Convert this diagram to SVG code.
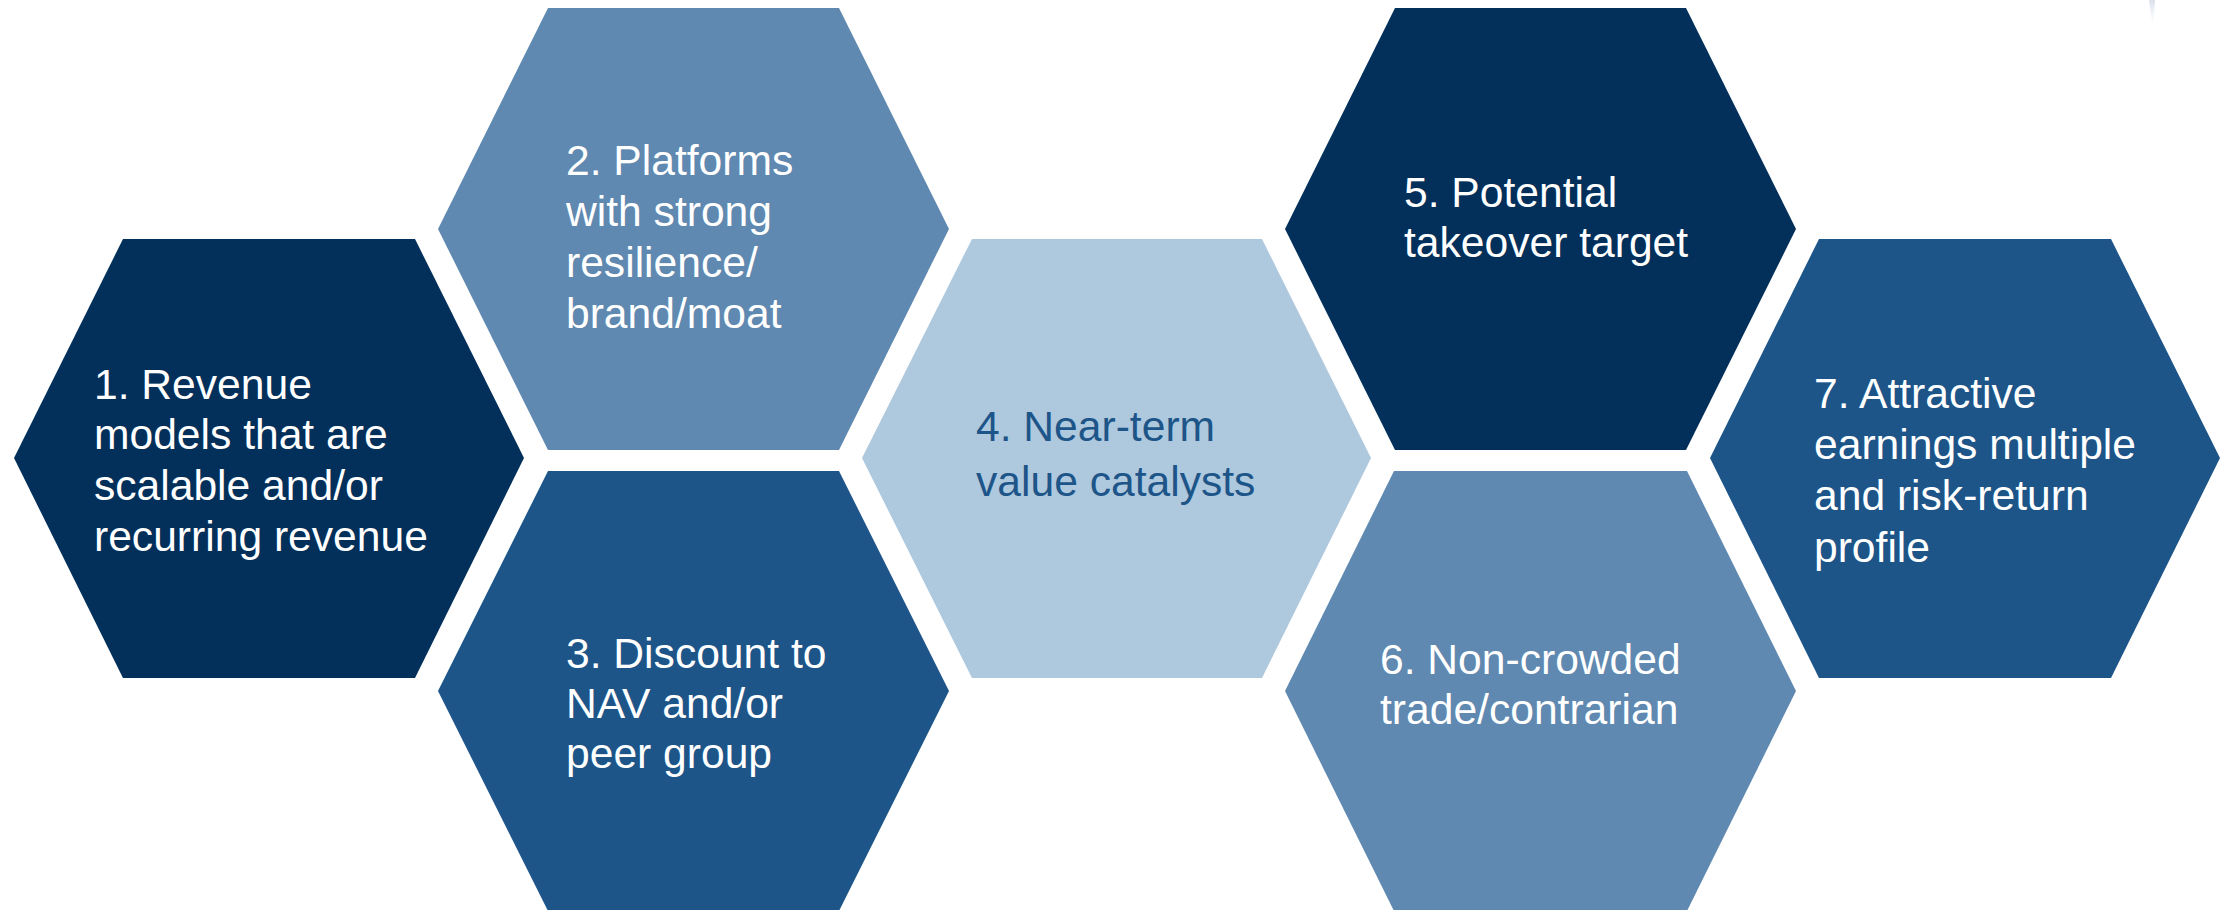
<svg xmlns="http://www.w3.org/2000/svg" width="2226" height="910" viewBox="0 0 2226 910">
  <defs>
    <linearGradient id="sliver" x1="0" y1="0" x2="0" y2="1">
      <stop offset="0" stop-color="#d9e0ea"/>
      <stop offset="1" stop-color="#ffffff" stop-opacity="0"/>
    </linearGradient>
    <style>
      .navy { fill: #03305a; }
      .steel { fill: #5f89b0; }
      .mid { fill: #1d5589; }
      .pale { fill: #aec8de; }
      .lbl { font-family: "Liberation Sans", Arial, sans-serif; font-size: 42.6px; fill: #ffffff; }
      .lbl.dark { fill: #1d5589; }
    </style>
  </defs>
  <rect width="2226" height="910" fill="#ffffff"/>
  <polygon points="2149,0 2155,0 2153,32" fill="url(#sliver)"/>

  <g id="hex1">
    <polygon class="navy" points="14,458 123,239 415,239 524,458 415,678 123,678"/>
    <text class="lbl">
      <tspan x="94" y="399">1. Revenue</tspan>
      <tspan x="94" y="449">models that are</tspan>
      <tspan x="94" y="500">scalable and/or</tspan>
      <tspan x="94" y="551">recurring revenue</tspan>
    </text>
  </g>

  <g id="hex2">
    <polygon class="steel" points="438,229 548,8 839,8 949,229 839,450 548,450"/>
    <text class="lbl">
      <tspan x="566" y="175">2. Platforms</tspan>
      <tspan x="566" y="226">with strong</tspan>
      <tspan x="566" y="277">resilience/</tspan>
      <tspan x="566" y="328">brand/moat</tspan>
    </text>
  </g>

  <g id="hex3">
    <polygon class="mid" points="438,691 548,471 839,471 949,691 839,911 548,911"/>
    <text class="lbl">
      <tspan x="566" y="668">3. Discount to</tspan>
      <tspan x="566" y="718">NAV and/or</tspan>
      <tspan x="566" y="768">peer group</tspan>
    </text>
  </g>

  <g id="hex4">
    <polygon class="pale" points="862,458 972,239 1262,239 1371,458 1262,678 972,678"/>
    <text class="lbl dark">
      <tspan x="976" y="441">4. Near-term</tspan>
      <tspan x="976" y="496">value catalysts</tspan>
    </text>
  </g>

  <g id="hex5">
    <polygon class="navy" points="1285,229 1395,8 1686,8 1796,229 1686,450 1395,450"/>
    <text class="lbl">
      <tspan x="1404" y="207">5. Potential</tspan>
      <tspan x="1404" y="257">takeover target</tspan>
    </text>
  </g>

  <g id="hex6">
    <polygon class="steel" points="1285,691 1394,471 1687,471 1796,691 1687,911 1394,911"/>
    <text class="lbl">
      <tspan x="1380" y="674">6. Non-crowded</tspan>
      <tspan x="1380" y="724">trade/contrarian</tspan>
    </text>
  </g>

  <g id="hex7">
    <polygon class="mid" points="1710,458 1819,239 2111,239 2220,458 2111,678 1819,678"/>
    <text class="lbl">
      <tspan x="1814" y="408">7. Attractive</tspan>
      <tspan x="1814" y="459">earnings multiple</tspan>
      <tspan x="1814" y="510">and risk-return</tspan>
      <tspan x="1814" y="562">profile</tspan>
    </text>
  </g>

  <g id="connectors"/>
</svg>
